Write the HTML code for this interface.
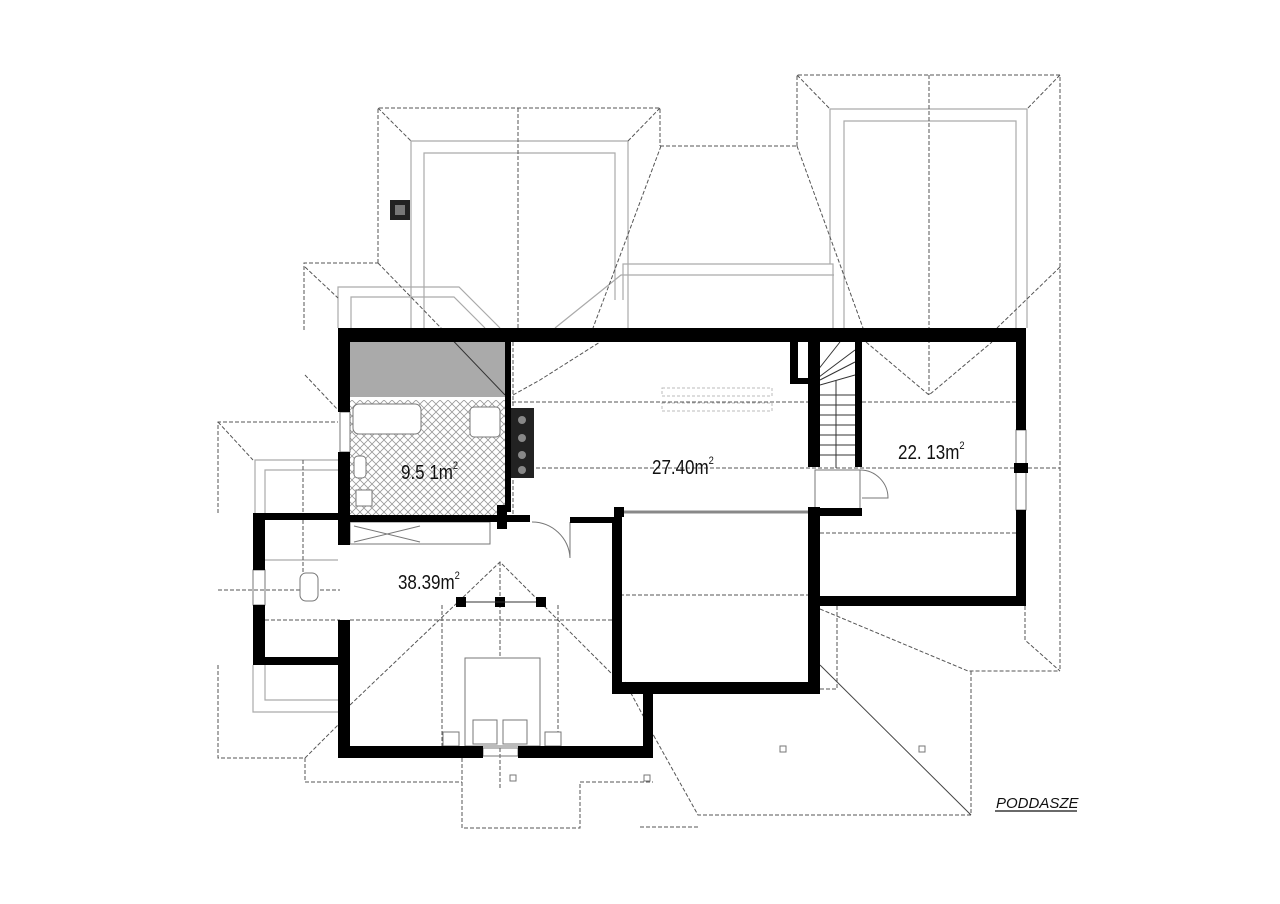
<!DOCTYPE html>
<html><head><meta charset="utf-8"><style>
html,body{margin:0;padding:0;background:#fff;}
svg{display:block;}
text{font-family:"Liberation Sans",sans-serif;}
</style></head><body>
<svg width="1280" height="904" viewBox="0 0 1280 904" xmlns="http://www.w3.org/2000/svg">
<defs>
<pattern id="hatch" width="8" height="8" patternUnits="userSpaceOnUse">
<path d="M0,0L8,8M8,0L0,8" stroke="#999" stroke-width="0.8"/>
</pattern>
</defs>
<rect width="1280" height="904" fill="#fff"/>
<g fill="none" stroke="#aaa" stroke-width="1.2">
<polyline points="411,328 411,141 628,141 628,328"/>
<polyline points="424,328 424,153 615,153 615,300"/>
<polyline points="623,300 623,264 833,264 833,328"/>
<polyline points="555,328 621,275 834,275"/>
<polyline points="830,264 830,109 1027,109 1027,328"/>
<polyline points="844,328 844,121 1016,121 1016,328"/>
<polyline points="338,328 338,287 459,287 500,328"/>
<polyline points="351,328 351,297 454,297 485,328"/>
<polyline points="338,460 255,460 255,513"/>
<polyline points="338,470 265,470 265,513"/>
<polyline points="253,665 253,712 338,712"/>
<polyline points="265,665 265,700 338,700"/>
<line x1="265" y1="560" x2="338" y2="560"/>
</g>
<g fill="none" stroke="#555" stroke-width="1" stroke-dasharray="4,2">
<polyline points="378,263 378,108 660,108 660,146"/>
<line x1="378" y1="108" x2="411" y2="141"/><line x1="660" y1="108" x2="628" y2="141"/>
<line x1="518" y1="108" x2="518" y2="330"/>
<line x1="378" y1="263" x2="441" y2="328"/>
<line x1="660" y1="146" x2="797" y2="146"/>
<line x1="661" y1="146" x2="593" y2="328"/>
<line x1="797" y1="146" x2="863" y2="328"/>
<polyline points="797,146 797,75 1060,75 1060,671"/>
<line x1="797" y1="75" x2="830" y2="109"/><line x1="1060" y1="75" x2="1027" y2="109"/>
<line x1="929" y1="75" x2="929" y2="395"/>
<line x1="1060" y1="267" x2="997" y2="328"/>
<polyline points="866,342 929,395 992,342"/>
<line x1="512" y1="402" x2="808" y2="402"/>
<line x1="862" y1="402" x2="1016" y2="402"/>
<line x1="512" y1="468" x2="1060" y2="468"/>
<line x1="820" y1="533" x2="1016" y2="533"/>
<line x1="513" y1="342" x2="513" y2="520"/>
<polyline points="513,395 540,380 600,342"/>
<polyline points="304,330 304,263 378,263"/>
<line x1="305" y1="267" x2="338" y2="298"/>
<line x1="305" y1="375" x2="338" y2="410"/>
<polyline points="218,513 218,422 338,422"/>
<line x1="218" y1="422" x2="253" y2="460"/>
<polyline points="218,665 218,758 305,758 338,725"/>
<line x1="265" y1="620" x2="340" y2="620"/>
<line x1="218" y1="590" x2="340" y2="590"/>
<line x1="303" y1="520" x2="303" y2="590"/>
<line x1="303" y1="460" x2="303" y2="513"/>
<polyline points="350,705 500,562 618,680"/>
<line x1="500" y1="562" x2="500" y2="790"/>
<line x1="350" y1="620" x2="612" y2="620"/>
<line x1="442" y1="605" x2="442" y2="746"/>
<line x1="558" y1="605" x2="558" y2="746"/>
<polyline points="305,758 305,782 462,782"/>
<polyline points="462,758 462,828 580,828 580,782 653,782"/>
<line x1="625" y1="682" x2="655" y2="738"/>
<polyline points="820,609 968,671 1060,671"/>
<polyline points="971,671 971,815 698,815 655,738"/>
<line x1="640" y1="827" x2="698" y2="827"/>
<polyline points="820,689 837,689 837,606"/>
<polyline points="1025,606 1025,640 1060,671"/>
<line x1="620" y1="595" x2="808" y2="595"/>
</g>
<line x1="820" y1="665" x2="971" y2="815" stroke="#444" stroke-width="1"/>
<rect x="350" y="342" width="155" height="55" fill="#aaa"/>
<line x1="441" y1="328" x2="505" y2="395" stroke="#333" stroke-width="1"/>
<rect x="350" y="400" width="155" height="115" fill="url(#hatch)"/>
<g fill="#fff" stroke="#777" stroke-width="1">
<rect x="353" y="404" width="68" height="30" rx="6"/>
<rect x="470" y="407" width="30" height="30" rx="4"/>
<rect x="354" y="456" width="12" height="22" rx="4"/>
<rect x="356" y="490" width="16" height="16"/>
<rect x="350" y="522" width="140" height="22"/>
<rect x="300" y="573" width="18" height="28" rx="6"/>
<rect x="465" y="658" width="75" height="88"/>
<rect x="473" y="720" width="24" height="24"/>
<rect x="503" y="720" width="24" height="24"/>
<rect x="443" y="732" width="16" height="14"/>
<rect x="545" y="732" width="16" height="14"/>
<rect x="780" y="746" width="6" height="6"/>
<rect x="919" y="746" width="6" height="6"/>
<rect x="510" y="775" width="6" height="6"/>
<rect x="644" y="775" width="6" height="6"/>
</g>
<g stroke="#777" fill="none" stroke-width="1">
<line x1="354" y1="526" x2="420" y2="542"/><line x1="354" y1="542" x2="420" y2="526"/>
<path d="M532,522 A38,38 0 0 1 570,558 L570,522"/>
<path d="M860,470 A28,28 0 0 1 888,498 L862,498"/>
<rect x="815" y="470" width="45" height="40"/>
<rect x="1016" y="430" width="10" height="80"/>
<rect x="340" y="412" width="10" height="40"/>
<rect x="253" y="570" width="12" height="35"/>
<rect x="483" y="748" width="35" height="8"/>
</g>
<g stroke="#bbb" stroke-dasharray="3,2" fill="none">
<rect x="662" y="388" width="110" height="8"/><rect x="662" y="403" width="110" height="8"/>
</g>
<g stroke="#333" stroke-width="1" fill="none">
<line x1="820" y1="395" x2="855" y2="395"/><line x1="820" y1="405" x2="855" y2="405"/>
<line x1="820" y1="415" x2="855" y2="415"/><line x1="820" y1="425" x2="855" y2="425"/>
<line x1="820" y1="435" x2="855" y2="435"/><line x1="820" y1="445" x2="855" y2="445"/>
<line x1="820" y1="455" x2="855" y2="455"/>
<line x1="820" y1="385" x2="855" y2="375"/><line x1="820" y1="380" x2="855" y2="362"/>
<line x1="815" y1="380" x2="855" y2="350"/><line x1="810" y1="380" x2="840" y2="342"/>
<line x1="836" y1="380" x2="836" y2="468"/>
</g>
<rect x="510" y="408" width="24" height="70" fill="#222"/>
<g fill="#888"><circle cx="522" cy="420" r="4"/><circle cx="522" cy="438" r="4"/><circle cx="522" cy="455" r="4"/><circle cx="522" cy="470" r="4"/></g>
<rect x="390" y="200" width="20" height="20" fill="#222"/><rect x="395" y="205" width="10" height="10" fill="#777"/>
<line x1="620" y1="512" x2="808" y2="512" stroke="#888" stroke-width="3"/>
<rect x="614" y="507" width="10" height="10" fill="#000"/>
<g fill="#000">
<rect x="338" y="328" width="688" height="14"/>
<rect x="338" y="328" width="12" height="84"/>
<rect x="338" y="452" width="12" height="93"/>
<rect x="338" y="620" width="12" height="138"/>
<rect x="338" y="746" width="145" height="12"/>
<rect x="518" y="746" width="135" height="12"/>
<rect x="643" y="682" width="10" height="76"/>
<rect x="612" y="682" width="208" height="12"/>
<rect x="612" y="517" width="10" height="177"/>
<rect x="808" y="507" width="12" height="187"/>
<rect x="808" y="342" width="12" height="125"/>
<rect x="790" y="342" width="8" height="40"/>
<rect x="790" y="378" width="30" height="6"/>
<rect x="855" y="342" width="7" height="125"/>
<rect x="808" y="508" width="54" height="8"/>
<rect x="1016" y="328" width="10" height="102"/>
<rect x="1016" y="510" width="10" height="96"/>
<rect x="1014" y="463" width="14" height="10"/>
<rect x="820" y="596" width="206" height="10"/>
<rect x="505" y="342" width="6" height="170"/>
<rect x="497" y="505" width="10" height="12"/>
<rect x="350" y="515" width="180" height="7"/>
<rect x="570" y="517" width="52" height="6"/>
<rect x="497" y="517" width="10" height="12"/>
<rect x="253" y="513" width="12" height="57"/>
<rect x="253" y="605" width="12" height="60"/>
<rect x="253" y="513" width="87" height="7"/>
<rect x="253" y="657" width="87" height="8"/>
<rect x="456" y="597" width="10" height="10"/>
<rect x="495" y="597" width="10" height="10"/>
<rect x="536" y="597" width="10" height="10"/>
</g>
<line x1="466" y1="602" x2="536" y2="602" stroke="#333"/>
<g font-size="20" fill="#111">
<text x="401" y="479" transform="translate(401 479) scale(0.85 1) translate(-401 -479)">9.5 1m<tspan font-size="11" dy="-10">2</tspan></text>
<text x="652" y="474" transform="translate(652 474) scale(0.85 1) translate(-652 -474)">27.40m<tspan font-size="11" dy="-10">2</tspan></text>
<text x="898" y="459" transform="translate(898 459) scale(0.85 1) translate(-898 -459)">22. 13m<tspan font-size="11" dy="-10">2</tspan></text>
<text x="398" y="589" transform="translate(398 589) scale(0.85 1) translate(-398 -589)">38.39m<tspan font-size="11" dy="-10">2</tspan></text>
</g>
<text x="996" y="808" font-size="15" font-style="italic" fill="#111">PODDASZE</text>
<line x1="995" y1="811" x2="1077" y2="811" stroke="#111" stroke-width="1.2"/>
</svg>
</body></html>
